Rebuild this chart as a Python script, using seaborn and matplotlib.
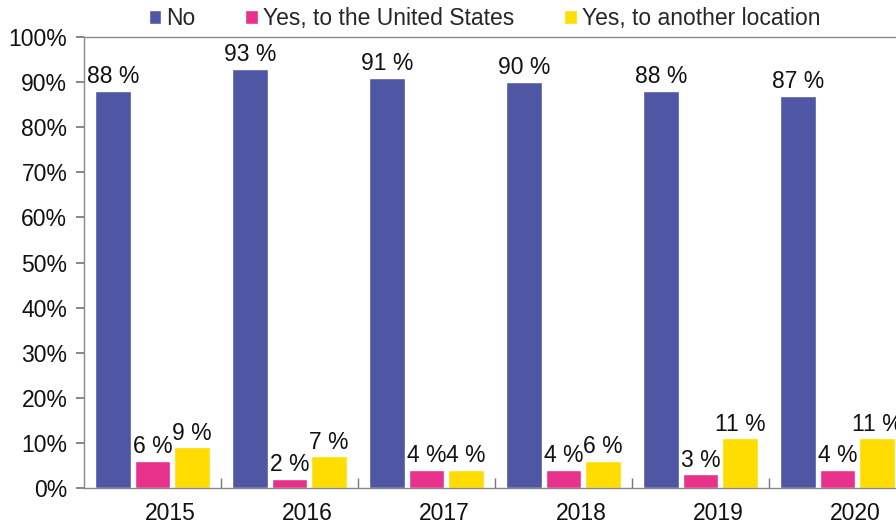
import matplotlib

matplotlib.use("Agg")

import matplotlib.pyplot as plt  # noqa: E402
import matplotlib.transforms as mtransforms  # noqa: E402
import pandas as pd  # noqa: E402
import seaborn as sns  # noqa: E402

years = ["2015", "2016", "2017", "2018", "2019", "2020"]
answers = ["No", "Yes, to the United States", "Yes, to another location"]
no_vals = [88, 93, 91, 90, 88, 87]
us_vals = [6, 2, 4, 4, 3, 4]
other_vals = [9, 7, 4, 6, 11, 11]
colors = ["#4F57A5", "#E8318A", "#FFDD00"]

FS = 16.5

sns.set_theme(style="white")
plt.rcParams["font.family"] = ["Liberation Sans", "DejaVu Sans"]

df = pd.DataFrame({
    "year": years * 3,
    "answer": [a for a in answers for _ in years],
    "value": no_vals + us_vals + other_vals,
})

fig = plt.figure(figsize=(8.96, 5.23), dpi=100)
ax = fig.add_axes([84 / 896, 35 / 523, 822 / 896, 451 / 523])

sns.barplot(
    data=df, x="year", y="value", hue="answer", hue_order=answers,
    order=years, palette=colors, width=0.87, gap=0.1, ax=ax,
    saturation=1, legend=True,
)

for cont in ax.containers:
    ax.bar_label(cont, labels=[f"{v:.0f} %" for v in cont.datavalues],
                 padding=2, fontsize=FS, color="#111111")

ax.set_xlim(-0.5, 5.5)
ax.set_ylim(0, 100)
ax.set_yticks(range(0, 101, 10))
ax.set_yticklabels([f"{v}%" for v in range(0, 101, 10)], fontsize=FS, color="#111111")
ax.set_xlabel("")
ax.set_ylabel("")

# year labels sit a little right of the group centres, boundaries get small ticks
ax.set_xticks(range(len(years)))
ax.set_xticklabels(years, fontsize=FS, color="#111111")
ax.tick_params(axis="x", which="major", length=0, pad=10)
offset = mtransforms.ScaledTranslation(18 / 100, 0, fig.dpi_scale_trans)
for lab in ax.get_xticklabels():
    lab.set_transform(lab.get_transform() + offset)
ax.set_xticks([i + 0.5 for i in range(len(years) - 1)], minor=True)
ax.tick_params(axis="x", which="minor", direction="in", length=7, color="#777777", bottom=True)
ax.tick_params(axis="y", direction="out", length=6, color="#777777", left=True, pad=6)

ax.spines["right"].set_visible(False)
for side in ["left", "bottom", "top"]:
    ax.spines[side].set_color("#888888")
    ax.spines[side].set_linewidth(1)

ax.legend(
    loc="lower center", bbox_to_anchor=(0.487, 0.985), ncol=3, frameon=False,
    fontsize=FS, handlelength=0.55, handleheight=0.55, handletextpad=0.2,
    columnspacing=2.2, borderaxespad=0.2,
)

fig.savefig("out.png", dpi=100)
